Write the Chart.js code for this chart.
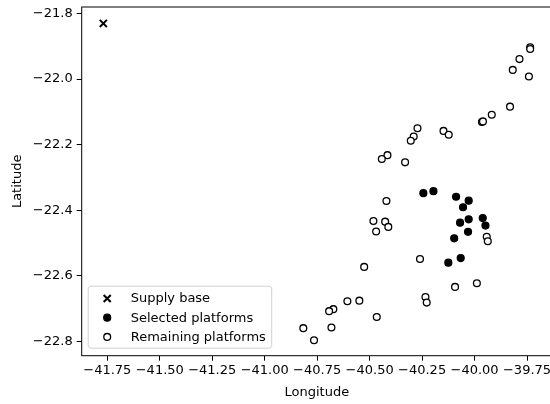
<!DOCTYPE html>
<html>
<head>
<meta charset="utf-8">
<script src="https://cdn.jsdelivr.net/npm/chart.js@4/dist/chart.umd.min.js"></script>
<style>
  html, body { margin: 0; padding: 0; background: #fff; overflow: hidden; }
  #wrap { width: 550px; height: 404px; overflow: hidden; position: relative; }
  #mapChart { position: absolute; left: 0; top: 0; }
</style>
</head>
<body>
<div id="wrap"><canvas id="mapChart" width="600" height="404"></canvas></div>
<script>
// series names (legend order)
const seriesNames = ["Supply base", "Selected platforms", "Remaining platforms"];

// supply base
const baseLon = [-41.769];
const baseLat = [-21.830];

// selected platforms
const selectedLon = [-40.244, -40.196, -40.088, -40.028, -40.055, -40.028, -40.069,
  -39.961, -39.948, -40.031, -40.097, -40.125, -40.066];
const selectedLat = [-22.348, -22.342, -22.359, -22.371, -22.391, -22.428, -22.438,
  -22.424, -22.447, -22.466, -22.486, -22.560, -22.546];

// remaining platforms
const remainingLon = [-39.735, -39.735, -39.786, -39.818, -39.741, -39.831, -39.918,
  -39.965, -39.960, -40.272, -40.148, -40.123, -40.290, -40.304, -40.415, -40.442,
  -40.331, -40.420, -40.482, -40.426, -40.411, -40.469, -39.942, -39.937, -40.260,
  -40.526, -39.989, -40.093, -40.234, -40.228, -40.549, -40.606, -40.673, -40.693,
  -40.466, -40.816, -40.682, -40.765];
const remainingLat = [-21.903, -21.908, -21.939, -21.972, -21.992, -22.084, -22.109,
  -22.131, -22.129, -22.150, -22.158, -22.170, -22.175, -22.188, -22.232, -22.244,
  -22.254, -22.372, -22.433, -22.435, -22.451, -22.465, -22.481, -22.495, -22.549,
  -22.573, -22.623, -22.634, -22.665, -22.682, -22.676, -22.678, -22.702, -22.708,
  -22.726, -22.760, -22.758, -22.797];

// tick labels
const xTicks = [-41.75, -41.5, -41.25, -41.0, -40.75, -40.5, -40.25, -40.0, -39.75];
const yTicks = [-22.8, -22.6, -22.4, -22.2, -22.0, -21.8];

const FONT = "'DejaVu Sans', sans-serif";
const FSIZE = 13;

function toPoints(lons, lats) {
  return lons.map((x, i) => ({ x: x, y: lats[i] }));
}

function fmt(v, digits) {
  return v.toFixed(digits).replace("-", "\u2212");
}

// axes frame on all four sides
const framePlugin = {
  id: "frame",
  afterDraw(chart) {
    const a = chart.chartArea;
    const ctx = chart.ctx;
    ctx.save();
    ctx.strokeStyle = "#000";
    ctx.lineWidth = 1;
    ctx.strokeRect(a.left, a.top, a.right - a.left, a.bottom - a.top);
    ctx.restore();
  }
};

// matplotlib style legend in lower left
const legendBoxPlugin = {
  id: "legendBox",
  afterDraw(chart) {
    const a = chart.chartArea;
    const ctx = chart.ctx;
    const x0 = a.left + 6.5, y1 = a.bottom - 7.5;
    const w = 183.5, h = 62;
    const y0 = y1 - h;
    ctx.save();
    ctx.beginPath();
    ctx.roundRect(x0, y0, w, h, 3);
    ctx.fillStyle = "rgba(255,255,255,0.8)";
    ctx.fill();
    ctx.strokeStyle = "#d0d0d0";
    ctx.lineWidth = 1;
    ctx.stroke();

    ctx.font = FSIZE + "px " + FONT;
    ctx.textBaseline = "middle";
    ctx.textAlign = "left";
    chart.data.datasets.forEach((ds, i) => {
      const cy = y0 + 12.3 + i * 19.2;
      ctx.fillStyle = ds.pointBackgroundColor;
      ctx.strokeStyle = ds.pointBorderColor;
      ctx.lineWidth = ds.pointBorderWidth;
      Chart.helpers.drawPoint(ctx, {
        pointStyle: ds.pointStyle,
        radius: ds.pointRadius,
        borderWidth: ds.pointBorderWidth,
        rotation: 0
      }, x0 + 19, cy);
      ctx.fillStyle = "#000";
      ctx.fillText(ds.label, x0 + 42.5, cy + 0.5);
    });
    ctx.restore();
  }
};

new Chart(document.getElementById("mapChart"), {
  type: "scatter",
  data: {
    datasets: [
      {
        label: seriesNames[0],
        data: toPoints(baseLon, baseLat),
        pointStyle: "crossRot",
        pointRadius: 5,
        pointBorderWidth: 2,
        pointBorderColor: "#000",
        pointBackgroundColor: "#000",
        order: 2
      },
      {
        label: seriesNames[1],
        data: toPoints(selectedLon, selectedLat),
        pointStyle: "circle",
        pointRadius: 3.5,
        pointBorderWidth: 1.2,
        pointBorderColor: "#000",
        pointBackgroundColor: "#000",
        order: 1
      },
      {
        label: seriesNames[2],
        data: toPoints(remainingLon, remainingLat),
        pointStyle: "circle",
        pointRadius: 3.4,
        pointBorderWidth: 1.3,
        pointBorderColor: "#000",
        pointBackgroundColor: "#fff",
        order: 0
      }
    ]
  },
  options: {
    responsive: false,
    animation: false,
    devicePixelRatio: 1,
    events: [],
    layout: { padding: { top: 5, right: 48, left: 0, bottom: 0 } },
    plugins: {
      legend: { display: false },
      tooltip: { enabled: false }
    },
    scales: {
      x: {
        type: "linear",
        min: -41.872,
        max: -39.631,
        afterBuildTicks: (scale) => { scale.ticks = xTicks.map(v => ({ value: v })); },
        afterFit: (scale) => {
          scale.height = 48.3;
          scale.paddingLeft = 0;
          scale.paddingRight = 0;
        },
        border: { display: false },
        grid: { drawOnChartArea: false, drawTicks: true, tickLength: 5, color: "#000", tickWidth: 1 },
        ticks: {
          padding: 2,
          color: "#000",
          font: { family: FONT, size: FSIZE },
          maxRotation: 0,
          autoSkip: false,
          callback: (v) => fmt(v, 2)
        },
        title: {
          display: true,
          text: "Longitude",
          color: "#000",
          font: { family: FONT, size: FSIZE },
          padding: { top: 0, bottom: 3.5 }
        }
      },
      y: {
        type: "linear",
        min: -22.844,
        max: -21.78,
        afterBuildTicks: (scale) => { scale.ticks = yTicks.map(v => ({ value: v })); },
        afterFit: (scale) => {
          scale.width = 81.7;
          scale.paddingTop = 0;
          scale.paddingBottom = 0;
        },
        border: { display: false },
        grid: { drawOnChartArea: false, drawTicks: true, tickLength: 5, color: "#000", tickWidth: 1 },
        ticks: {
          padding: 4,
          color: "#000",
          font: { family: FONT, size: FSIZE },
          autoSkip: false,
          callback: (v) => fmt(v, 1)
        },
        title: {
          display: true,
          text: "Latitude",
          color: "#000",
          font: { family: FONT, size: FSIZE },
          padding: { top: 10, bottom: 0 }
        }
      }
    }
  },
  plugins: [framePlugin, legendBoxPlugin]
});
</script>
</body>
</html>
